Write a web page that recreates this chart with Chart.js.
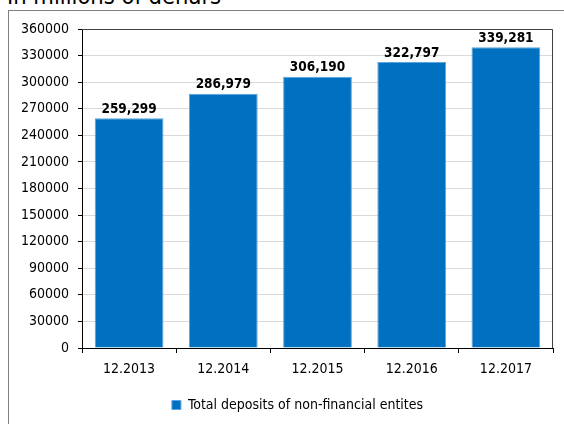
<!DOCTYPE html>
<html>
<head>
<meta charset="utf-8">
<script src="https://cdn.jsdelivr.net/npm/chart.js@4/dist/chart.umd.min.js"></script>
<style>
  html, body { margin: 0; padding: 0; background: #fff; overflow: hidden; }
  #wrap { position: relative; width: 564px; height: 424px; overflow: hidden; }
  #frame { position: absolute; left: 8px; top: 10px; width: 600px; height: 500px; border: 1px solid #7f7f7f; }
  #title { position: absolute; left: 7px; top: -16px; font: 23.5px "DejaVu Sans Condensed", "DejaVu Sans", sans-serif; color: #000; white-space: nowrap; line-height: 24px; }
  canvas { position: absolute; left: 0; top: 0; }
</style>
</head>
<body>
<div id="wrap">
  <div id="title">In millions of denars</div>
  <div id="frame"></div>
  <canvas id="depChart" width="564" height="424"></canvas>
</div>
<script>
// data
const periods = ["12.2013", "12.2014", "12.2015", "12.2016", "12.2017"];
const deposits = [259299, 286979, 306190, 322797, 339281];
const seriesName = "Total deposits of non-financial entites";
const yMax = 360000;
const yStep = 30000;

const fontFamily = '"DejaVu Sans Condensed", "DejaVu Sans", sans-serif';

// legend sits a bit right of the canvas centre in the original
const legendShift = {
  id: 'legendShift',
  afterLayout(chart) {
    chart.legend.left += 21;
    chart.legend.right += 21;
  }
};

// values above bars + frame around plot
const barValuesPlugin = {
  id: 'barValues',
  afterDatasetsDraw(chart) {
    const { ctx, chartArea } = chart;
    const meta = chart.getDatasetMeta(0);
    ctx.save();
    // top and right edge of the plot area
    ctx.strokeStyle = '#404040';
    ctx.lineWidth = 1;
    ctx.beginPath();
    ctx.moveTo(chartArea.left, chartArea.top + 0.5);
    ctx.lineTo(chartArea.right - 0.5, chartArea.top + 0.5);
    ctx.lineTo(chartArea.right - 0.5, chartArea.bottom);
    ctx.stroke();

    ctx.font = 'bold 13.5px ' + fontFamily;
    ctx.fillStyle = '#000';
    ctx.textAlign = 'center';
    ctx.textBaseline = 'bottom';
    meta.data.forEach((bar, i) => {
      ctx.fillText(deposits[i].toLocaleString('en-US'), bar.x, bar.y - 2);
    });
    ctx.restore();
  }
};

const ctx = document.getElementById('depChart').getContext('2d');
new Chart(ctx, {
  type: 'bar',
  data: {
    labels: periods,
    datasets: [{
      label: seriesName,
      data: deposits,
      backgroundColor: '#0070C0',
      borderColor: '#5aa5e0',
      borderWidth: 1,
      categoryPercentage: 1,
      barPercentage: 0.73
    }]
  },
  options: {
    responsive: false,
    animation: false,
    layout: { padding: { top: 29, right: 11, left: 0, bottom: 2 } },
    scales: {
      x: {
        afterFit(scale) { scale.height = 40; },
        grid: { drawOnChartArea: false, tickLength: 5, color: '#000', offset: true },
        border: { color: '#000', width: 1 },
        ticks: { color: '#000', padding: 8, font: { family: fontFamily, size: 14 } }
      },
      y: {
        min: 0,
        max: yMax,
        afterFit(scale) { scale.width = 82; },
        grid: { color: '#d9d9d9', tickLength: 4, tickColor: '#000' },
        border: { color: '#000', width: 1 },
        ticks: {
          stepSize: yStep,
          color: '#000',
          padding: 9,
          font: { family: fontFamily, size: 14 },
          callback: v => String(v)
        }
      }
    },
    plugins: {
      legend: {
        position: 'bottom',
        labels: {
          boxWidth: 9,
          boxHeight: 9,
          padding: 10,
          color: '#000',
          font: { family: fontFamily, size: 14 }
        }
      },
      tooltip: { enabled: false }
    }
  },
  plugins: [legendShift, barValuesPlugin]
});
</script>
</body>
</html>
